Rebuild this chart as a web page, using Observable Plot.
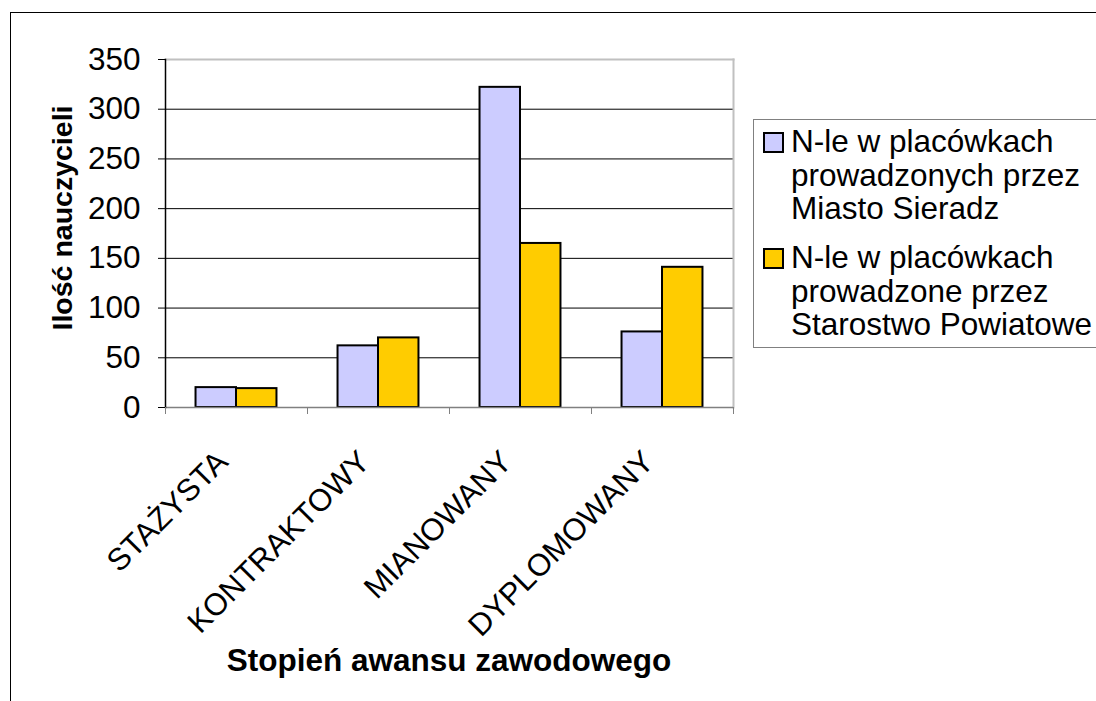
<!DOCTYPE html>
<html>
<head>
<meta charset="utf-8">
<script src="https://cdn.jsdelivr.net/npm/d3@7"></script>
<script src="https://cdn.jsdelivr.net/npm/@observablehq/plot@0.6"></script>
<style>
  html, body { margin: 0; padding: 0; background: #fff; }
  #wrap { position: relative; width: 1096px; height: 701px; overflow: hidden; font-family: "Liberation Sans", Arial, sans-serif; color: #000; }
  #border { position: absolute; left: 10px; top: 12px; width: 1200px; height: 800px; border: 1px solid #000; box-sizing: border-box; }
  #chart { position: absolute; left: 0; top: 0; }
  #ytitle { position: absolute; left: 62px; top: 218px; transform: translate(-50%, -50%) rotate(-90deg); font-weight: bold; font-size: 28.5px; white-space: nowrap; }
  #xtitle { position: absolute; left: 449px; top: 643px; transform: translateX(-50%); font-weight: bold; font-size: 31.5px; white-space: nowrap; line-height: 34px; }
  #legend { position: absolute; left: 753px; top: 119px; width: 400px; height: 229px; border: 1px solid #808080; box-sizing: border-box; background: #fff; }
  .item { position: absolute; left: 9px; font-size: 31.5px; line-height: 33.5px; }
  .sw { position: absolute; left: 0; width: 21px; height: 21px; border: 2px solid #000; box-sizing: border-box; }
  .txt { position: absolute; left: 28px; top: 0; white-space: nowrap; }
</style>
</head>
<body>
<div id="wrap">
  <div id="border"></div>
  <div id="chart"></div>
  <div id="ytitle"></div>
  <div id="xtitle"></div>
  <div id="legend"></div>
</div>
<script>
// Data
const categories = ["STAŻYSTA", "KONTRAKTOWY", "MIANOWANY", "DYPLOMOWANY"];
const miastoValues = [20, 62, 322, 76];
const starostwoValues = [19, 70, 165, 141];
const seriesNames = [
  ["N-le w placówkach", "prowadzonych przez", "Miasto Sieradz"],
  ["N-le w placówkach", "prowadzone przez", "Starostwo Powiatowe"]
];
const yTicks = [0, 50, 100, 150, 200, 250, 300, 350];
const yTitle = "Ilość nauczycieli";
const xTitle = "Stopień awansu zawodowego";
const colors = ["#CCCCFF", "#FFCC00"];

const rows = categories.map((c, i) => ({category: c, miasto: miastoValues[i], starostwo: starostwoValues[i]}));

const W = 1096, H = 701;
const mL = 165, mR = W - 733, mT = 59, mB = H - 407;
const bw = (W - mL - mR) / categories.length;
const barW = bw * 0.285;
const gap = (bw - 2 * barW) / 2;

const plot = Plot.plot({
  width: W,
  height: H,
  marginLeft: mL,
  marginRight: mR,
  marginTop: mT,
  marginBottom: mB,
  style: {fontFamily: "'Liberation Sans', Arial, sans-serif", fontSize: "31px", color: "#000", background: "transparent", overflow: "visible"},
  x: {type: "band", domain: categories, padding: 0},
  y: {domain: [0, 350]},
  marks: [
    Plot.gridY({ticks: yTicks.filter(d => d > 0 && d < 350), stroke: "#000", strokeOpacity: 1}),
    Plot.frame({anchor: "top", stroke: "#c0c0c0", strokeWidth: 2}),
    Plot.frame({anchor: "right", stroke: "#c0c0c0", strokeWidth: 2}),
    Plot.barY(rows, {x: "category", y: "miasto", fill: colors[0], stroke: "#000", strokeWidth: 2, insetLeft: gap, insetRight: gap + barW}),
    Plot.barY(rows, {x: "category", y: "starostwo", fill: colors[1], stroke: "#000", strokeWidth: 2, insetLeft: gap + barW, insetRight: gap}),
    Plot.ruleY([0], {stroke: "#808080", strokeWidth: 1.5}),
    Plot.frame({anchor: "left", stroke: "#000", strokeWidth: 1.5}),
    Plot.axisY({ticks: yTicks, tickSize: 7, tickPadding: 18, fontSize: 31.5, label: null, stroke: "#000"}),
    Plot.axisX({tickSize: 7, text: null, dx: -bw / 2, stroke: "#808080", label: null}),
    Plot.axisX({ticks: [categories[categories.length - 1]], tickSize: 7, text: null, dx: bw / 2, stroke: "#808080", label: null}),
    Plot.axisX({tickSize: 0, tickRotate: -45, tickPadding: 49, dx: -14, fontSize: 31, label: null})
  ]
});
document.getElementById("chart").appendChild(plot);

document.getElementById("ytitle").textContent = yTitle;
document.getElementById("xtitle").textContent = xTitle;

const legend = document.getElementById("legend");
const tops = [12, 128];
seriesNames.forEach((lines, i) => {
  const item = document.createElement("div");
  item.className = "item";
  item.style.top = tops[i] + "px";
  const sw = document.createElement("div");
  sw.className = "sw";
  sw.style.background = colors[i];
  sw.style.top = "0px";
  const txt = document.createElement("div");
  txt.className = "txt";
  txt.style.top = "-7px";
  txt.innerHTML = lines.join("<br>");
  item.appendChild(sw);
  item.appendChild(txt);
  legend.appendChild(item);
});
</script>
</body>
</html>
